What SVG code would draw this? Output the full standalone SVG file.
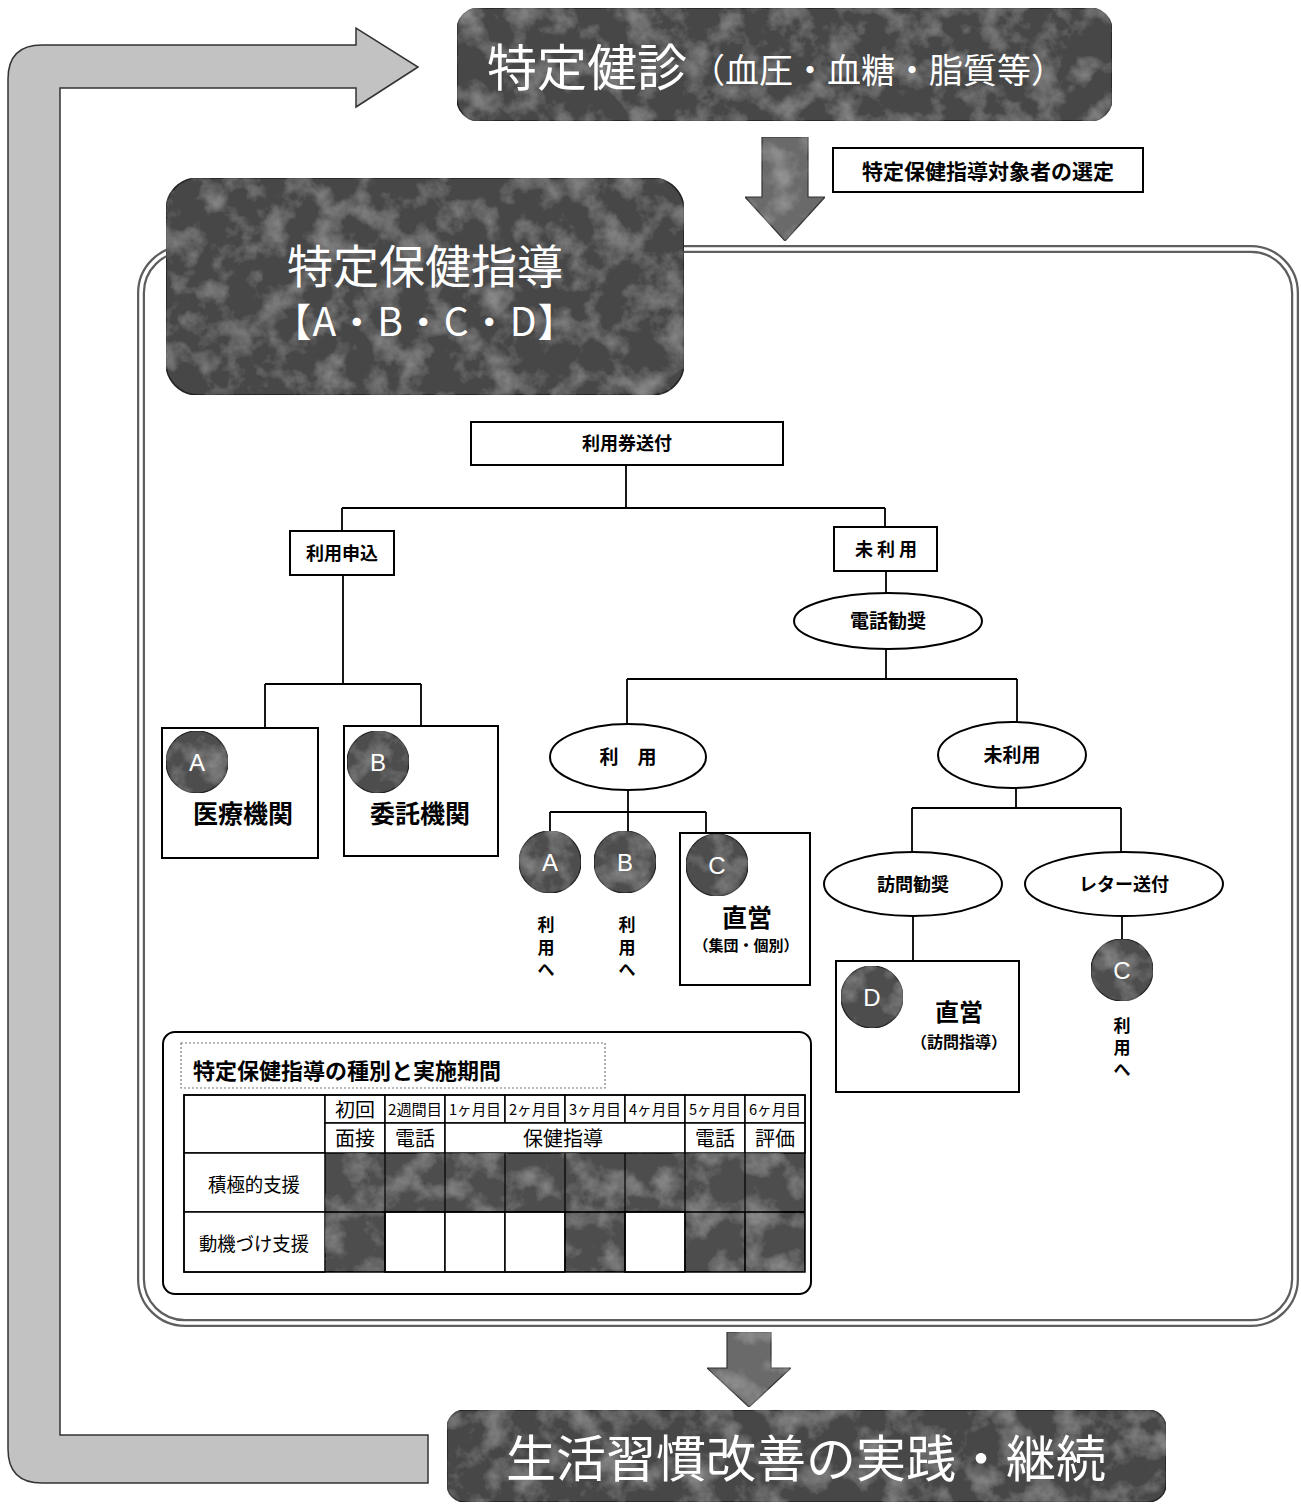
<svg xmlns="http://www.w3.org/2000/svg" width="1301" height="1507" viewBox="0 0 1301 1507">
<defs>
<filter id="tex" x="0" y="0" width="1" height="1">
<feTurbulence type="fractalNoise" baseFrequency="0.035" numOctaves="4" seed="7"/>
<feColorMatrix type="matrix" values="0 0 0 0 0.6  0 0 0 0 0.6  0 0 0 0 0.6  0.8 0 0 0 -0.36"/>
<feComposite in2="SourceGraphic" operator="in" result="t"/>
<feMerge><feMergeNode in="SourceGraphic"/><feMergeNode in="t"/></feMerge>
</filter>
<style>
.dark{fill:#474747;stroke:#222;stroke-width:1.5}
.band{fill:#c2c2c2;stroke:#333;stroke-width:1.5}
.garrow{fill:#6a6a6a;stroke:#333;stroke-width:1.2}
.box{fill:#fff;stroke:#000;stroke-width:2}
.ln{fill:none;stroke:#000;stroke-width:1.8}
.circ{fill:#4d4d4d;stroke:#222;stroke-width:1.2}
.cl{font-family:"Liberation Sans",sans-serif;font-size:24px;fill:#fff;text-anchor:middle}
.jw{font-family:"Noto Sans CJK JP",sans-serif;fill:#fff}
.jb{font-family:"Noto Sans CJK JP",sans-serif;font-weight:bold;fill:#000;text-anchor:middle}
.jt{font-family:"Noto Sans CJK JP",sans-serif;fill:#000;text-anchor:middle}
.cell{fill:#fff;stroke:#000;stroke-width:1.5}
.dcell{fill:#4e4e4e;stroke:#000;stroke-width:1.5}
</style>
</defs>
<rect width="1301" height="1507" fill="#fff"/>

<g id="loop-arrow">
<path class="band" d="M418,67 L356,107 L356,88 L60,88 L60,1435 L428,1435 L428,1483 L42,1483 Q8,1483 8,1449 L8,79 Q8,45 42,45 L356,45 L356,28 Z"/>
</g>

<g id="kenshin">
<rect class="dark" x="457" y="8" width="655" height="113" rx="22" filter="url(#tex)"/>
<text class="jw" x="487" y="86" font-size="50">特定健診<tspan font-size="34" dx="4" dy="-3">（血圧・血糖・脂質等）</tspan></text>
</g>

<g id="frame">
<rect x="141" y="249" width="1154" height="1074" rx="44" fill="none" stroke="#5e5e5e" stroke-width="8"/>
<rect x="141" y="249" width="1154" height="1074" rx="44" fill="none" stroke="#fff" stroke-width="3.5"/>
</g>

<g id="arrow-down-top">
<path class="garrow" d="M762,137 L808,137 L808,197 L825,197 L785,241 L745,197 L762,197 Z" filter="url(#tex)"/>
</g>
<g id="senntei">
<rect class="box" x="833" y="148" width="310" height="44" stroke-width="1.8"/>
<text class="jb" x="988" y="179" font-size="21">特定保健指導対象者の選定</text>
</g>

<g id="hoken-header">
<rect class="dark" x="166" y="178" width="518" height="217" rx="32" filter="url(#tex)"/>
<text class="jw" x="425" y="283" font-size="46" text-anchor="middle">特定保健指導</text>
<text class="jw" x="425" y="336" font-size="39" text-anchor="middle" letter-spacing="1">【A・B・C・D】</text>
</g>

<g id="connectors">
<path class="ln" d="M626,465 V508 M342,508 H885 M342,508 V531 M885,508 V527"/>
<path class="ln" d="M343,575 V684 M265,684 H421 M265,684 V728 M421,684 V726"/>
<path class="ln" d="M886,571 V593 M886,649 V679 M627,679 H1017 M627,679 V724 M1017,679 V722"/>
<path class="ln" d="M628,790 V812 M550,812 H706 M550,812 V832 M628,812 V832 M706,812 V833"/>
<path class="ln" d="M1016,787 V808 M912,808 H1121 M912,808 V852 M1121,808 V852"/>
<path class="ln" d="M913,917 V961 M1122,917 V940"/>
</g>

<g id="riyouken">
<rect class="box" x="471" y="422" width="312" height="43"/>
<text class="jb" x="627" y="450" font-size="18">利用券送付</text>
</g>
<g id="moushikomi">
<rect class="box" x="290" y="531" width="104" height="44"/>
<text class="jb" x="342" y="560" font-size="18">利用申込</text>
</g>
<g id="miriyou-box">
<rect class="box" x="834" y="527" width="103" height="44"/>
<text class="jb" x="886" y="556" font-size="18">未 利 用</text>
</g>
<g id="denwa">
<ellipse class="box" cx="888" cy="621" rx="94" ry="28"/>
<text class="jb" x="888" y="628" font-size="19">電話勧奨</text>
</g>

<g id="node-A-iryou">
<rect class="box" x="162" y="728" width="156" height="130"/>
<circle class="circ" cx="197" cy="762" r="31" filter="url(#tex)"/>
<text class="cl" x="197" y="771">A</text>
<text class="jb" x="243" y="823" font-size="25">医療機関</text>
</g>
<g id="node-B-itaku">
<rect class="box" x="344" y="726" width="154" height="130"/>
<circle class="circ" cx="378" cy="762" r="31" filter="url(#tex)"/>
<text class="cl" x="378" y="771">B</text>
<text class="jb" x="420" y="823" font-size="25">委託機関</text>
</g>

<g id="riyou-ellipse">
<ellipse class="box" cx="628" cy="757" rx="78" ry="33"/>
<text class="jb" x="628" y="764" font-size="19">利　用</text>
</g>
<g id="miriyou-ellipse">
<ellipse class="box" cx="1012" cy="755" rx="74" ry="33"/>
<text class="jb" x="1012" y="762" font-size="19">未利用</text>
</g>

<g id="node-A2">
<circle class="circ" cx="550" cy="862" r="31" filter="url(#tex)"/>
<text class="cl" x="550" y="871">A</text>
<text class="jb" font-size="17"><tspan x="546" y="931">利</tspan><tspan x="546" y="954">用</tspan><tspan x="546" y="976">へ</tspan></text>
</g>
<g id="node-B2">
<circle class="circ" cx="625" cy="862" r="31" filter="url(#tex)"/>
<text class="cl" x="625" y="871">B</text>
<text class="jb" font-size="17"><tspan x="627" y="931">利</tspan><tspan x="627" y="954">用</tspan><tspan x="627" y="976">へ</tspan></text>
</g>
<g id="node-C-chokuei">
<rect class="box" x="680" y="833" width="130" height="152"/>
<circle class="circ" cx="717" cy="865" r="31" filter="url(#tex)"/>
<text class="cl" x="717" y="874">C</text>
<text class="jb" x="747" y="927" font-size="25">直営</text>
<text class="jb" x="746" y="951" font-size="15">（集団・個別）</text>
</g>

<g id="houmon">
<ellipse class="box" cx="913" cy="884" rx="89" ry="32"/>
<text class="jb" x="913" y="891" font-size="18">訪問勧奨</text>
</g>
<g id="letter">
<ellipse class="box" cx="1124" cy="884" rx="99" ry="32"/>
<text class="jb" x="1124" y="891" font-size="18">レター送付</text>
</g>
<g id="node-D">
<rect class="box" x="836" y="961" width="183" height="131"/>
<circle class="circ" cx="872" cy="997" r="31" filter="url(#tex)"/>
<text class="cl" x="872" y="1006">D</text>
<text class="jb" x="959" y="1021" font-size="24">直営</text>
<text class="jb" x="959" y="1048" font-size="16">（訪問指導）</text>
</g>
<g id="node-C3">
<circle class="circ" cx="1122" cy="970" r="31" filter="url(#tex)"/>
<text class="cl" x="1122" y="979">C</text>
<text class="jb" font-size="17"><tspan x="1122" y="1032">利</tspan><tspan x="1122" y="1054">用</tspan><tspan x="1122" y="1076">へ</tspan></text>
</g>

<g id="table-panel">
<rect x="163" y="1032" width="648" height="262" rx="12" fill="#fff" stroke="#000" stroke-width="2"/>
<rect x="181" y="1043" width="424" height="45" fill="none" stroke="#777" stroke-width="1.2" stroke-dasharray="2 2"/>
<text class="jb" x="193" y="1079" font-size="22" style="text-anchor:start">特定保健指導の種別と実施期間</text>
<g id="table">
<rect class="cell" x="184" y="1095" width="141" height="58"/>
<rect class="cell" x="325" y="1095" width="60" height="28"/>
<rect class="cell" x="385" y="1095" width="60" height="28"/>
<rect class="cell" x="445" y="1095" width="60" height="28"/>
<rect class="cell" x="505" y="1095" width="60" height="28"/>
<rect class="cell" x="565" y="1095" width="60" height="28"/>
<rect class="cell" x="625" y="1095" width="60" height="28"/>
<rect class="cell" x="685" y="1095" width="60" height="28"/>
<rect class="cell" x="745" y="1095" width="60" height="28"/>
<rect class="cell" x="325" y="1123" width="60" height="30"/>
<rect class="cell" x="385" y="1123" width="60" height="30"/>
<rect class="cell" x="445" y="1123" width="240" height="30"/>
<rect class="cell" x="685" y="1123" width="60" height="30"/>
<rect class="cell" x="745" y="1123" width="60" height="30"/>
<rect class="cell" x="184" y="1153" width="141" height="59"/>
<rect class="cell" x="184" y="1212" width="141" height="60"/>
<rect class="dcell" x="325" y="1153" width="480" height="59" filter="url(#tex)"/>
<path fill="none" stroke="#000" stroke-width="1.2" d="M385,1153 V1212 M445,1153 V1212 M505,1153 V1212 M565,1153 V1212 M625,1153 V1212 M685,1153 V1212 M745,1153 V1212"/>
<rect class="dcell" x="325" y="1212" width="60" height="60" filter="url(#tex)"/>
<rect class="cell" x="385" y="1212" width="60" height="60"/>
<rect class="cell" x="445" y="1212" width="60" height="60"/>
<rect class="cell" x="505" y="1212" width="60" height="60"/>
<rect class="dcell" x="565" y="1212" width="60" height="60" filter="url(#tex)"/>
<rect class="cell" x="625" y="1212" width="60" height="60"/>
<rect class="dcell" x="685" y="1212" width="60" height="60" filter="url(#tex)"/>
<rect class="dcell" x="745" y="1212" width="60" height="60" filter="url(#tex)"/>
<path fill="none" stroke="#000" stroke-width="1.5" d="M184,1095 H805 V1272 H184 Z M325,1212 H805 M745,1212 V1272 M685,1212 V1272 M625,1212 V1272 M565,1212 V1272 M385,1212 V1272"/>
<text class="jt" x="355" y="1117" font-size="19" textLength="40" lengthAdjust="spacingAndGlyphs">初回</text>
<text class="jt" x="415" y="1115" font-size="15" textLength="54" lengthAdjust="spacingAndGlyphs">2週間目</text>
<text class="jt" x="475" y="1115" font-size="15" textLength="52" lengthAdjust="spacingAndGlyphs">1ヶ月目</text>
<text class="jt" x="535" y="1115" font-size="15" textLength="52" lengthAdjust="spacingAndGlyphs">2ヶ月目</text>
<text class="jt" x="595" y="1115" font-size="15" textLength="52" lengthAdjust="spacingAndGlyphs">3ヶ月目</text>
<text class="jt" x="655" y="1115" font-size="15" textLength="52" lengthAdjust="spacingAndGlyphs">4ヶ月目</text>
<text class="jt" x="715" y="1115" font-size="15" textLength="52" lengthAdjust="spacingAndGlyphs">5ヶ月目</text>
<text class="jt" x="775" y="1115" font-size="15" textLength="52" lengthAdjust="spacingAndGlyphs">6ヶ月目</text>
<text class="jt" x="355" y="1146" font-size="20" textLength="40" lengthAdjust="spacingAndGlyphs">面接</text>
<text class="jt" x="415" y="1146" font-size="20" textLength="40" lengthAdjust="spacingAndGlyphs">電話</text>
<text class="jt" x="563" y="1146" font-size="20" textLength="80" lengthAdjust="spacingAndGlyphs">保健指導</text>
<text class="jt" x="715" y="1146" font-size="20" textLength="40" lengthAdjust="spacingAndGlyphs">電話</text>
<text class="jt" x="775" y="1146" font-size="20" textLength="40" lengthAdjust="spacingAndGlyphs">評価</text>
<text class="jt" x="254" y="1192" font-size="19" textLength="92" lengthAdjust="spacingAndGlyphs">積極的支援</text>
<text class="jt" x="254" y="1251" font-size="19" textLength="110" lengthAdjust="spacingAndGlyphs">動機づけ支援</text>
</g>
</g>

<g id="arrow-down-bottom">
<path class="garrow" d="M727,1332 L771,1332 L771,1368 L791,1368 L749,1407 L707,1368 L727,1368 Z" filter="url(#tex)"/>
</g>

<g id="jissen">
<rect class="dark" x="447" y="1410" width="719" height="92" rx="18" filter="url(#tex)"/>
<text class="jw" x="806" y="1477" font-size="50" text-anchor="middle">生活習慣改善の実践・継続</text>
</g>
</svg>
